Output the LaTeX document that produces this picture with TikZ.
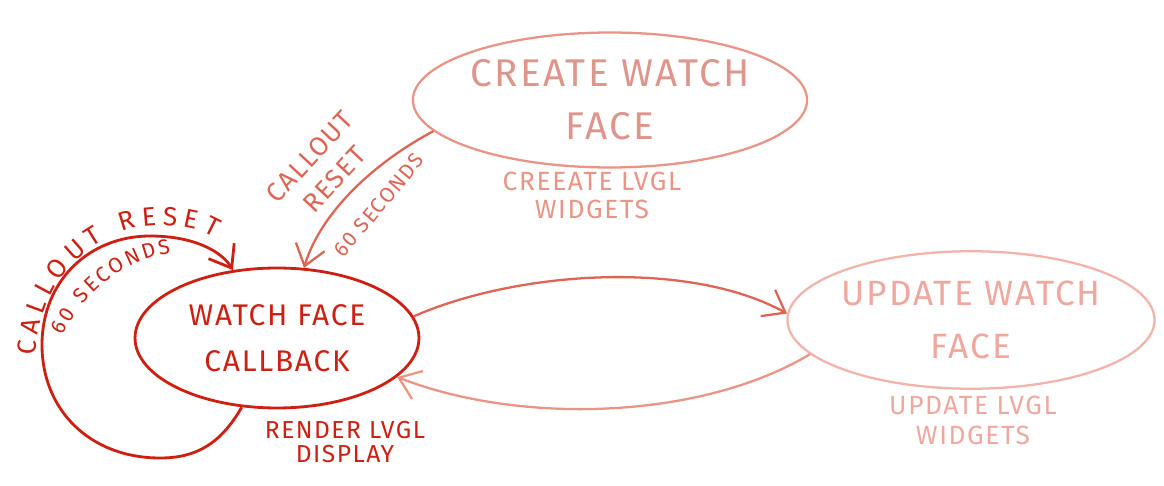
\documentclass[tikz,border=0pt]{standalone}
\usepackage{fontspec}
\setmainfont{Fira Sans}[LetterSpace=6]
\usetikzlibrary{shapes.geometric,arrows.meta,decorations.text}

\definecolor{wfred}{RGB}{206,32,18}
\definecolor{midred}{RGB}{222,100,84}
\definecolor{crpink}{RGB}{234,148,134}
\definecolor{crtext}{RGB}{222,150,140}
\definecolor{uppink}{RGB}{242,180,170}
\definecolor{uptext}{RGB}{238,168,158}

\begin{document}
\begin{tikzpicture}[x=0.02cm, y=-0.02cm, >={Straight Barb[length=4mm,width=6mm]}]

\tikzstyle{state}=[draw, ellipse, align=center, inner sep=0pt, line width=1.3pt]
\tikzstyle{note}=[align=center, font=\fontsize{15}{16}\selectfont]
\tikzstyle{cr}=[->, line width=1.3pt]

\useasboundingbox[fill=white] (0,0) rectangle (1164,486);

% states
\node(WF)[style=state, draw=wfred, text=wfred, line width=1.6pt, minimum width=5.68cm, minimum height=2.8cm, font=\fontsize{17}{26}\selectfont] at (277,338) {WATCH FACE\\CALLBACK};
\node(CW)[style=state, draw=crpink, text=crtext, minimum width=7.5cm, minimum height=2.7cm, font=\fontsize{22}{30}\selectfont] at (610,100) {CREATE WATCH\\FACE};
\node(UW)[style=state, draw=uppink, text=uptext, minimum width=6.96cm, minimum height=2.75cm, font=\fontsize{20}{30}\selectfont] at (971,320) {UPDATE WATCH\\FACE};

% labels under the states
\node(WFl)[style=note, text=wfred, font=\fontsize{14}{14}\selectfont] at (345,442) {RENDER LVGL\\DISPLAY};
\node(CWl)[style=note, text=crpink] at (592,195) {CREEATE LVGL\\WIDGETS};
\node(UWl)[style=note, text=uptext, font=\fontsize{15}{17}\selectfont] at (973,420) {UPDATE LVGL\\WIDGETS};

% arrows
\draw[style=cr, draw=midred] (WF.9) .. controls (520,270) and (690,260) .. (UW.178);
\draw[style=cr, draw=crpink] (UW.192) .. controls (700,420) and (520,425) .. (WF.-18);
\draw[style=cr, draw=midred] (CW.190) .. controls (370,165) and (320,215) .. (WF.69);
\draw[style=cr, draw=wfred, line width=1.6pt] (WF.243) .. controls (220,445) and (195,458) .. (160,458) .. controls (90,458) and (42,410) .. (42,345) .. controls (42,280) and (90,236) .. (150,236) .. controls (195,236) and (222,252) .. (WF.123);

% arrow texts
\node(A1)[style=note, text=midred, rotate=47, font=\fontsize{15}{19}\selectfont] at (322,168) {CALLOUT\\RESET};
\node(A3)[style=note, text=midred, rotate=50, font=\fontsize{12}{12}\selectfont] at (379,205) {60 SECONDS};

\path[decorate, decoration={text along path, text align=fit to path, text={|\fontsize{15}{15}\selectfont\color{wfred}|CALLOUT RESET}}] (36,356) .. controls (38,300) and (70,245) .. (135,228) .. controls (170,222) and (200,228) .. (214,238);
\path[decorate, decoration={text along path, text align=fit to path, text={|\fontsize{12}{12}\selectfont\color{wfred}|60 SECONDS}}] (63,336) .. controls (80,300) and (115,262) .. (171,253);

\end{tikzpicture}
\end{document}
